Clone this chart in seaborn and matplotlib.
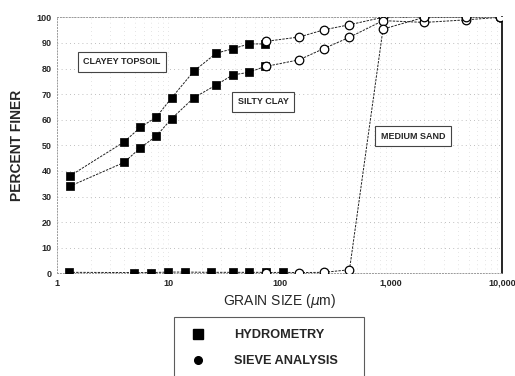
import numpy as np
import pandas as pd
import matplotlib
matplotlib.use("Agg")
import matplotlib.pyplot as plt
import seaborn as sns
from matplotlib.lines import Line2D
from matplotlib.ticker import FixedLocator, NullFormatter

# ---- data ----
hydro_size_clay = [1.3, 4.0, 5.6, 7.8, 10.7, 17, 27, 38, 53, 74]
hydro_topsoil = [38, 51.3, 57, 61, 68.5, 79, 86, 87.7, 89.6, 89.6]
hydro_siltyclay = [34, 43.3, 49, 53.6, 60.4, 68.6, 73.6, 77.5, 78.5, 80.8]

hydro_size_sand = [1.28, 4.9, 7.0, 10, 14, 24, 38, 53, 75, 108]
hydro_sand = [0.4, 0.3, 0.3, 0.5, 0.5, 0.4, 0.4, 0.4, 0.4, 0.4]

sieve_size = [75, 150, 250, 425, 850, 2000, 4750, 9500]
sieve_topsoil = [90.6, 92.3, 95.1, 97.1, 100, 100, 100, 100]
sieve_siltyclay = [80.8, 83.4, 87.8, 92.2, 98.7, 98, 99, 100]
sieve_sand = [0.3, 0.3, 0.4, 1.4, 95.4, 100, 100, 100]

soil_names = ["CLAYEY TOPSOIL", "SILTY CLAY", "MEDIUM SAND"]
x_ticks = [1, 10, 100, 1000, 10000]
x_ticklabels = ["1", "10", "100", "1,000", "10,000"]
y_ticks = list(range(0, 101, 10))

rows = []
for soil, hs, hv, sv in [
    (soil_names[0], hydro_size_clay, hydro_topsoil, sieve_topsoil),
    (soil_names[1], hydro_size_clay, hydro_siltyclay, sieve_siltyclay),
    (soil_names[2], hydro_size_sand, hydro_sand, sieve_sand),
]:
    for s, v in zip(hs, hv):
        rows.append((soil, "HYDROMETRY", s, v))
    for s, v in zip(sieve_size, sv):
        rows.append((soil, "SIEVE ANALYSIS", s, v))
df = pd.DataFrame(rows, columns=["soil", "method", "size", "finer"])

sns.set_theme(style="white")
plt.rcParams["font.family"] = ["Liberation Sans", "DejaVu Sans"]

fig = plt.figure(figsize=(5.15, 3.76), dpi=100)
ax = fig.add_axes([0.1107, 0.273, 0.8643, 0.681])

for soil in soil_names:
    d = df[df.soil == soil].sort_values(["size", "method"])
    sns.lineplot(data=d, x="size", y="finer", ax=ax, color="#222222",
                 lw=0.7, linestyle=(0, (2.5, 1.2)), sort=False,
                 estimator=None, legend=False, zorder=2)
    h = d[d.method == "HYDROMETRY"]
    sns.scatterplot(data=h, x="size", y="finer", ax=ax, marker="s", s=30,
                    color="black", edgecolor="black", linewidth=0.5,
                    legend=False, zorder=3)
    sv = d[d.method == "SIEVE ANALYSIS"]
    ax.scatter(sv["size"], sv["finer"], marker="o", s=38, facecolors="white",
               edgecolors="black", linewidths=0.9, zorder=4)

ax.set_xscale("log")
ax.set_xlim(1, 10000)
ax.set_ylim(0, 100)
ax.xaxis.set_major_locator(FixedLocator(x_ticks))
ax.set_xticklabels(x_ticklabels)
ax.xaxis.set_minor_formatter(NullFormatter())
ax.set_yticks(y_ticks)
ax.tick_params(axis="both", which="both", length=0, labelsize=6.5, pad=4)
for lab in ax.get_xticklabels() + ax.get_yticklabels():
    lab.set_fontweight("bold")

ax.grid(True, which="major", axis="y", color="#aaaaaa", lw=0.6, ls=(0, (1, 4)))
ax.grid(True, which="both", axis="x", color="#cccccc", lw=0.5, ls=(0, (1, 5)))

for side in ["left", "top", "bottom"]:
    ax.spines[side].set_color("#999999")
    ax.spines[side].set_linestyle((0, (1, 2)))
    ax.spines[side].set_linewidth(0.7)
ax.spines["right"].set_color("black")
ax.spines["right"].set_linewidth(1.2)

ax.set_xlabel("GRAIN SIZE ($\\mu$m)", fontsize=10, labelpad=3)
ax.set_ylabel("PERCENT FINER", fontsize=10, fontweight="bold", labelpad=9)

box = dict(boxstyle="square,pad=0.6", fc="white", ec="#444444", lw=0.8)
ax.text(1.72, 82.7, soil_names[0], fontsize=6.5, fontweight="bold",
        ha="left", va="center", bbox=box, zorder=5)
ax.text(42, 67.0, soil_names[1], fontsize=6.5, fontweight="bold",
        ha="left", va="center", bbox=box, zorder=5)
ax.text(810, 53.5, soil_names[2], fontsize=6.5, fontweight="bold",
        ha="left", va="center", bbox=box, zorder=5)

handles = [
    Line2D([], [], marker="s", color="black", ls="none", markersize=7.5),
    Line2D([], [], marker="o", color="black", ls="none", markersize=5.5),
]
leg = fig.legend(handles, ["HYDROMETRY", "SIEVE ANALYSIS"],
                 loc="upper left", bbox_to_anchor=(0.338, 0.158, 0.369, 0.0),
                 mode="expand",
                 frameon=True, fancybox=False, edgecolor="#333333",
                 prop={"size": 9.2, "weight": "bold"},
                 handletextpad=1.9, borderpad=1.0, labelspacing=1.1,
                 borderaxespad=0, handlelength=1.8)
leg.get_frame().set_linewidth(0.8)

fig.savefig("out.png", dpi=100)
